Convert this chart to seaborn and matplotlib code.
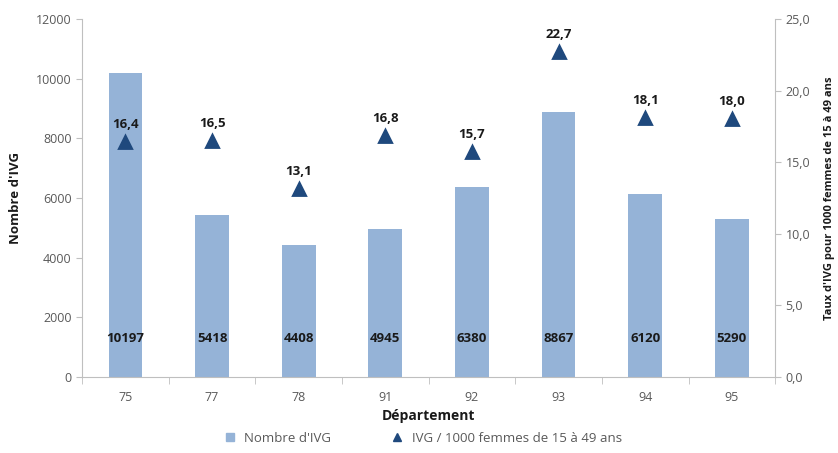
import matplotlib
matplotlib.use("Agg")
import matplotlib.pyplot as plt
import seaborn as sns
import pandas as pd
from matplotlib.lines import Line2D

departements = ["75", "77", "78", "91", "92", "93", "94", "95"]
nombre_ivg = [10197, 5418, 4408, 4945, 6380, 8867, 6120, 5290]
taux_ivg = [16.4, 16.5, 13.1, 16.8, 15.7, 22.7, 18.1, 18.0]

bar_color = "#95B3D7"
tri_color = "#1F497D"
grey = "#595959"
axis_grey = "#BFBFBF"

sns.set_style("white")
plt.rcParams["font.family"] = ["Open Sans", "DejaVu Sans"]

df = pd.DataFrame({"dep": departements, "n": nombre_ivg, "t": taux_ivg})

fig = plt.figure(figsize=(8.38, 4.53), dpi=100)
ax = fig.add_axes([0.098, 0.168, 0.827, 0.790])

sns.barplot(data=df, x="dep", y="n", ax=ax, color=bar_color, width=0.39,
            saturation=1, edgecolor="none")
ax.set_ylim(0, 12000)
ax.set_xlim(-0.5, len(departements) - 0.5)
ax.set_yticks(range(0, 12001, 2000))
ax.set_yticklabels([str(v) for v in range(0, 12001, 2000)])

ax2 = ax.twinx()
sns.pointplot(data=df, x="dep", y="t", ax=ax2, color=tri_color, markers="^",
              linestyle="none", markersize=8.5, errorbar=None)
ax2.set_ylim(0, 25)
ax2.set_xlim(-0.5, len(departements) - 0.5)
ax2.set_yticks([0, 5, 10, 15, 20, 25])
ax2.set_yticklabels([f"{v:.1f}".replace(".", ",") for v in [0, 5, 10, 15, 20, 25]])

# labels
for i, v in enumerate(nombre_ivg):
    ax.text(i, 1300, str(v), ha="center", va="center", fontsize=9.5,
            fontweight="bold", color="#1a1a1a")
for i, v in enumerate(taux_ivg):
    ax2.annotate(f"{v:.1f}".replace(".", ","), (i, v), xytext=(0, 8),
                 textcoords="offset points", ha="center", va="bottom",
                 fontsize=9.5, fontweight="bold", color="#1a1a1a")

for a in (ax, ax2):
    for s in a.spines.values():
        s.set_visible(False)
    a.tick_params(colors=axis_grey, labelcolor=grey, labelsize=9, length=4)

ax.spines["left"].set_visible(True)
ax.spines["left"].set_color(axis_grey)
ax.spines["bottom"].set_visible(True)
ax.spines["bottom"].set_color(axis_grey)
ax2.spines["right"].set_visible(True)
ax2.spines["right"].set_color(axis_grey)

ax.tick_params(axis="y", left=True, direction="out")
ax2.tick_params(axis="y", right=True, direction="out")
ax.tick_params(axis="x", bottom=False, pad=6)
# boundary ticks between categories
ax.set_xticks([i + 0.5 for i in range(-1, len(departements))], minor=True)
ax.tick_params(axis="x", which="minor", bottom=True, length=5, color=axis_grey)

ax.set_xlabel("Département", fontsize=10, fontweight="bold", color="#1a1a1a", labelpad=4)
ax.set_ylabel("Nombre d'IVG", fontsize=9.5, fontweight="bold", color="#1a1a1a", labelpad=10)
ax2.set_ylabel("Taux d'IVG pour 1000 femmes de 15 à 49 ans", fontsize=8,
               fontweight="bold", color="#1a1a1a", labelpad=10)

handles = [
    Line2D([], [], marker="s", linestyle="none", color=bar_color, markersize=6),
    Line2D([], [], marker="^", linestyle="none", color=tri_color, markersize=6),
]
fig.legend(handles, ["Nombre d'IVG", "IVG / 1000 femmes de 15 à 49 ans"],
           loc="center", bbox_to_anchor=(0.5, 0.033), ncol=2, frameon=False,
           fontsize=9.5, handletextpad=0.1, columnspacing=4, labelcolor=grey)

fig.savefig("out.png", dpi=100)
